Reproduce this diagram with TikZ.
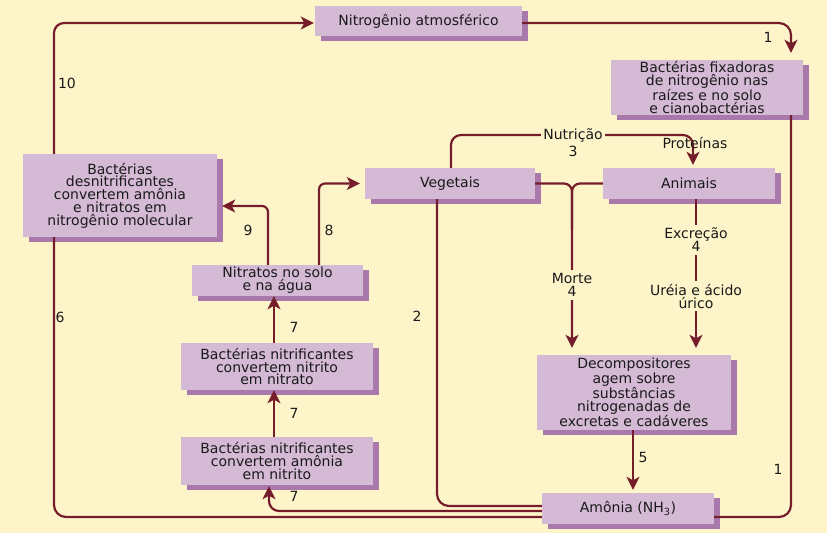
\documentclass[tikz,border=0pt]{standalone}
\usepackage{fontspec}
\setmainfont{DejaVu Sans}
\usetikzlibrary{arrows.meta,shadows}
\definecolor{bgcol}{HTML}{FEF4C9}
\definecolor{boxcol}{HTML}{D5BAD6}
\definecolor{shadcol}{HTML}{A979AC}
\definecolor{linecol}{HTML}{761D2B}
\definecolor{txtcol}{HTML}{1A1A1A}
\tikzset{
  box/.style={fill=boxcol, draw=none, align=center, inner sep=0pt, text=txtcol,
    font=\fontsize{14}{12.8}\selectfont,
    general shadow={fill=shadcol, shadow xshift=6pt, shadow yshift=-5pt}},
  conn/.style={draw=linecol, line width=2.2pt},
  arr/.style={conn, -{Stealth[length=13pt,width=13pt,inset=3.5pt]}},
  lbl/.style={text=txtcol, align=center, inner sep=0pt, font=\fontsize{14}{13}\selectfont},
  lblcut/.style={lbl, fill=bgcol, inner xsep=2pt, inner ysep=3pt},
}
\begin{document}
\begin{tikzpicture}[x=1pt,y=-1pt]
\fill[bgcol] (0,0) rectangle (827,533);
\useasboundingbox (0,0) rectangle (827,533);

% nodes
\node[box, minimum width=207pt, minimum height=30pt] (atm) at (418.5,21) {Nitrogênio atmosférico};
\node[box, minimum width=192pt, minimum height=55pt] (fix) at (707,87.5) {Bactérias fixadoras\\de nitrogênio nas\\raízes e no solo\\e cianobactérias};
\node[box, minimum width=170pt, minimum height=31pt] (veg) at (450,183.5) {Vegetais};
\node[box, minimum width=172pt, minimum height=31pt] (ani) at (689,183.5) {Animais};
\node[box, minimum width=194pt, minimum height=83pt] (des) at (120,195.5) {Bactérias\\desnitrificantes\\convertem amônia\\e nitratos em\\nitrogênio molecular};
\node[box, minimum width=171pt, minimum height=31pt] (nso) at (277.5,280.5) {Nitratos no solo\\e na água};
\node[box, minimum width=192pt, minimum height=47pt] (nt2) at (277,366.5) {Bactérias nitrificantes\\convertem nitrito\\em nitrato};
\node[box, minimum width=192pt, minimum height=48pt] (nt1) at (277,461) {Bactérias nitrificantes\\convertem amônia\\em nitrito};
\node[box, minimum width=194pt, minimum height=75pt] (dec) at (634,392.5) {Decompositores\\agem sobre\\substâncias\\nitrogenadas de\\excretas e cadáveres};
\node[box, minimum width=172pt, minimum height=31pt] (amo) at (628,508.5) {Amônia (NH\textsubscript{3})};

% helper coordinates
\coordinate (x54) at (54,0);
\coordinate (y23) at (0,23);
\coordinate (x791) at (791,0);
\coordinate (y517) at (0,517);
\coordinate (y511) at (0,511);
\coordinate (y506) at (0,506);
\coordinate (x269) at (269,0);
\coordinate (x274) at (274,0);
\coordinate (x268) at (268,0);
\coordinate (y206) at (0,206);
\coordinate (x319) at (319,0);
\coordinate (x437) at (437,0);
\coordinate (x451) at (451,0);
\coordinate (n693) at (693,135);
\coordinate (x572) at (572,0);
\coordinate (j572) at (572,230);
\coordinate (x696) at (696,0);
\coordinate (x633) at (633,0);

% 10
\draw[arr, rounded corners=10pt, shorten >=1pt] (des.north -| x54) |- (atm.west |- y23);
\node[lbl] at (67,83) {10};
% 1 top
\draw[arr, rounded corners=12pt, shorten >=7pt] (atm.east |- y23) -| (fix.north -| x791);
\node[lbl] at (768,37) {1};
% 1 bottom
\draw[conn, rounded corners=12pt] (fix.south -| x791) |- (amo.east |- y517);
\node[lbl] at (778,469) {1};
% 6
\draw[conn, rounded corners=12pt] (amo.west |- y517) -| (des.south -| x54);
\node[lbl] at (60,317) {6};
% 7 bottom
\draw[arr, rounded corners=10pt, shorten >=1pt] (amo.west |- y511) -| (nt1.south -| x269);
\node[lbl] at (294,496) {7};
% 7 middle
\draw[arr] (nt1.north -| x274) -- (nt2.south -| x274);
\node[lbl] at (294,413) {7};
% 7 upper
\draw[arr] (nt2.north -| x274) -- (nso.south -| x274);
\node[lbl] at (294,327) {7};
% 9
\draw[arr, rounded corners=6pt, shorten >=5pt] (nso.north -| x268) |- (des.east |- y206);
\node[lbl] at (248,230) {9};
% 8
\draw[arr, rounded corners=6pt, shorten >=5pt] (nso.north -| x319) |- (veg.west);
\node[lbl] at (329,230) {8};
% 2
\draw[conn, rounded corners=12pt] (amo.west |- y506) -| (veg.south -| x437);
\node[lbl] at (417,316) {2};
% Nutricao 3
\draw[arr, rounded corners=10pt, shorten >=3pt] (veg.north -| x451) |- (n693) -- (ani.north -| n693);
\node[lblcut, inner ysep=1pt] at (573,135) {Nutrição};
\node[lbl] at (573,151) {3};
\node[lbl] at (695,143) {Proteínas};
% Morte 4
\draw[arr, rounded corners=8pt, shorten >=7pt] (veg.east) -| (dec.north -| x572);
\draw[conn, rounded corners=8pt] (ani.west) -| (j572);
\node[lblcut] at (572,285) {Morte\\4};
% Excrecao 4
\draw[arr, shorten >=7pt] (ani.south -| x696) -- (dec.north -| x696);
\node[lblcut] at (696,240) {Excreção\\4};
\node[lblcut] at (696,296) {Uréia e ácido\\úrico};
% 5
\draw[arr, shorten >=3pt] (dec.south -| x633) -- (amo.north -| x633);
\node[lbl] at (643,457) {5};
\end{tikzpicture}
\end{document}
